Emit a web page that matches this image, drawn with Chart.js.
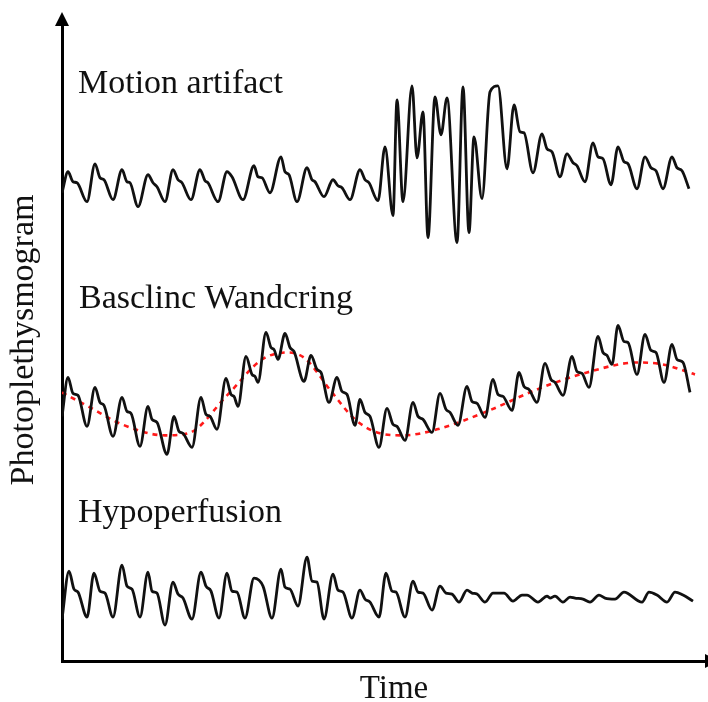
<!DOCTYPE html>
<html>
<head>
<meta charset="utf-8">
<script src="https://cdn.jsdelivr.net/npm/chart.js@4/dist/chart.umd.min.js"></script>
<style>
html,body{margin:0;padding:0;background:#fff;}
#wrap{width:708px;height:702px;position:relative;}
</style>
</head>
<body>
<div id="wrap"><canvas id="c" width="708" height="702"></canvas></div>
<script>
// ---- Data (time in arbitrary units, amplitude in arbitrary units) ----
const motionTime = [0,6,11,15,25,33,38,42,51,60,65,68,76,86,91,95,103,111,116,120,129,138,143,146,156,165,170,181,192,196,200,208,219,223,227,235,245,250,253,262,271,276,280,288,298,303,307,316,323,331,335,341,350,355,361,366,373,379,385,395,401,407,412,420,428,436,445,452,458,462,471,480,485,490,498,505,511,515,523,531,536,541,549,556,562,566,575,583,589,594,601,610,615,620,627];
const motionValue = [469,490,480,479,460,498,484,482,462,492,480,479,455,487,479,475,460,492,482,479,462,492,481,479,460,490,485,462,496,485,484,469,505,490,487,460,494,482,480,465,482,476,474,462,492,482,479,461,515,446,562,460,576,504,550,424,565,527,564,419,575,429,525,463,570,576,493,557,530,529,489,528,513,510,485,508,499,496,480,519,505,503,477,515,500,498,473,505,494,491,473,505,494,491,473];

const wanderTime = [0,6,11,16,25,33,38,42,51,60,65,69,78,86,90,95,105,112,117,121,130,139,144,148,155,164,169,172,176,184,190,193,196,204,209,212,216,223,228,232,242,249,255,259,267,275,280,285,293,298,303,308,317,325,331,335,343,351,356,361,370,378,384,388,396,405,410,415,423,431,436,441,450,457,462,467,475,483,489,493,501,510,515,520,527,536,541,545,550,556,562,566,575,583,589,594,602,610,615,621,628];
const wanderValue = [245,284,268,266,235,274,259,256,225,264,250,248,215,255,242,239,207,245,230,228,214,264,247,245,232,283,267,265,255,305,287,285,279,329,314,312,302,328,314,310,280,306,292,289,259,284,270,267,236,262,249,245,214,253,237,235,221,259,245,242,229,268,252,249,236,275,260,258,244,282,267,265,251,289,275,272,259,298,282,279,266,305,290,288,274,325,309,306,297,336,320,319,287,327,311,309,279,317,302,299,269];

const trendTime = [0,28,60,103,126,166,200,226,243,270,293,318,341,375,425,475,525,575,601,633];
const trendValue = [269,254,237,226,228,267,302,309,303,269,242,228,226,232,250,272,289,299,297,287];

const hypoTime = [0,7,12,16,25,32,38,43,51,60,65,70,78,86,90,95,103,111,116,121,130,139,144,149,157,165,170,175,183,192,201,210,219,223,228,236,245,250,255,262,271,276,281,290,298,303,308,317,324,330,334,343,351,356,361,370,378,384,390,397,405,410,415,423,431,442,451,460,465,476,485,488,493,501,508,513,521,528,537,543,553,562,580,587,595,605,613,621,631];
const hypoValue = [42,90,72,69,44,88,70,68,44,96,75,72,44,89,70,68,36,79,67,63,42,89,75,70,43,88,70,69,43,83,75,43,92,74,72,55,104,80,79,42,87,71,69,43,71,62,59,44,88,70,69,44,80,69,68,51,75,68,67,59,71,68,67,59,68,68,60,66,66,59,65,63,65,59,64,63,62,59,66,63,62,69,59,69,66,59,69,66,60];

const seriesLabels = ['Motion artifact', 'Basclinc Wandcring', 'Hypoperfusion'];
const xAxisTitle = 'Time';
const yAxisTitle = 'Photoplethysmogram';

function zip(xs, ys){ return xs.map((x,i)=>({x:x, y:ys[i]})); }

// label anchor (data coords) for each series name
const labelAnchors = [[16,569],[17,354],[16,139]];

const TEXT_FONT = '34px "Liberation Serif", "Times New Roman", serif';

const decor = {
  id: 'decor',
  afterDraw(chart){
    const ctx = chart.ctx;
    const a = chart.chartArea;
    const xs = chart.scales.x, ys = chart.scales.y;
    ctx.save();
    // arrow heads
    ctx.fillStyle = '#000';
    ctx.beginPath();
    ctx.moveTo(a.left, a.top - 8);
    ctx.lineTo(a.left - 7, a.top + 6);
    ctx.lineTo(a.left + 7, a.top + 6);
    ctx.closePath(); ctx.fill();
    ctx.beginPath();
    ctx.moveTo(a.right + 12, a.bottom);
    ctx.lineTo(a.right - 3, a.bottom - 7);
    ctx.lineTo(a.right - 3, a.bottom + 7);
    ctx.closePath(); ctx.fill();
    // series labels
    ctx.font = TEXT_FONT;
    ctx.fillStyle = '#111';
    ctx.textAlign = 'left';
    ctx.textBaseline = 'alphabetic';
    seriesLabels.forEach((t,i)=>{
      ctx.fillText(t, xs.getPixelForValue(labelAnchors[i][0]), ys.getPixelForValue(labelAnchors[i][1]));
    });
    // axis titles
    ctx.font = '33px "Liberation Serif", "Times New Roman", serif';
    ctx.textAlign = 'center';
    ctx.fillText(xAxisTitle, 394, 698);
    ctx.translate(33, 340);
    ctx.rotate(-Math.PI/2);
    ctx.font = '34px "Liberation Serif", "Times New Roman", serif';
    ctx.fillText(yAxisTitle, 0, 0);
    ctx.restore();
  }
};

const lineStyle = {borderColor:'#111', borderWidth:2.8, pointRadius:0, fill:false, cubicInterpolationMode:'monotone'};

new Chart(document.getElementById('c'), {
  type: 'line',
  data: {
    datasets: [
      Object.assign({label: seriesLabels[0], data: zip(motionTime, motionValue)}, lineStyle),
      Object.assign({label: seriesLabels[1], data: zip(wanderTime, wanderValue)}, lineStyle),
      {label:'Baseline trend', data: zip(trendTime, trendValue), borderColor:'#ff1a1a', borderWidth:2.6, borderDash:[5,5], pointRadius:0, fill:false, cubicInterpolationMode:'monotone'},
      Object.assign({label: seriesLabels[2], data: zip(hypoTime, hypoValue)}, lineStyle)
    ]
  },
  options: {
    responsive: false,
    animation: false,
    layout: {padding: {left: 54, top: 20, right: 0, bottom: 33}},
    plugins: {legend: {display:false}, tooltip: {enabled:false}},
    scales: {
      x: {type:'linear', min:0, max:646, grid:{display:false}, ticks:{display:false}, border:{display:true, color:'#000', width:3}},
      y: {type:'linear', min:0, max:642, grid:{display:false}, ticks:{display:false}, border:{display:true, color:'#000', width:3}}
    }
  },
  plugins: [decor]
});
</script>
</body>
</html>
